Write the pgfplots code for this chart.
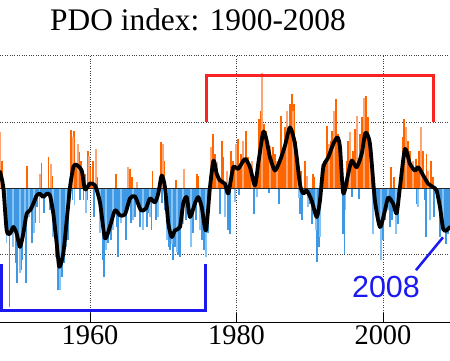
\documentclass[border=0pt]{standalone}
\usepackage{fontspec}
\setmainfont{Liberation Serif}
\newfontfamily\sansf{Liberation Sans}
\usepackage{pgfplots}
\pgfplotsset{compat=1.18}
\usepackage{pgfplotstable}

\definecolor{pdoorange}{RGB}{255,102,0}
\definecolor{pdolorange}{RGB}{255,165,115}
\definecolor{pdoblue}{RGB}{62,152,228}
\definecolor{pdolblue}{RGB}{135,195,245}
\definecolor{brred}{RGB}{250,35,35}
\definecolor{brblue}{RGB}{25,25,240}

\pgfplotstableread{
x y
1947.71 0.25
1948.16 0.015
1948.62 -0.636
1949.08 -0.686
1949.53 -0.586
1949.99 -0.686
1950.44 -0.887
1950.89 -0.686
1951.35 -0.385
1951.81 -0.335
1952.26 -0.235
1952.72 -0.11
1953.17 -0.084
1953.62 -0.135
1954.09 -0.084
1954.54 -0.11
1954.99 -0.385
1955.45 -0.836
1955.81 -1.188
1956.35 -0.986
1956.82 -0.486
1957.27 0.015
1957.72 0.316
1958.09 0.356
1958.86 0.266
1959.31 -0.02
1960.00 0.071
1960.68 0.041
1961.36 -0.215
1962.04 -0.756
1962.73 -0.576
1963.41 -0.335
1964.09 -0.41
1964.78 -0.395
1965.46 -0.155
1966.14 -0.125
1966.96 -0.335
1967.64 -0.305
1968.19 -0.155
1968.87 -0.215
1969.32 -0.08
1969.79 0.191
1970.24 0.01
1970.69 -0.531
1971.15 -0.737
1971.60 -0.636
1972.28 -0.586
1972.73 -0.23
1973.20 -0.135
1973.65 -0.436
1974.33 -0.23
1974.78 -0.135
1975.25 -0.286
1975.83 -0.636
1976.38 0.015
1976.86 0.417
1977.29 0.221
1977.74 0.116
1978.43 0.066
1978.88 -0.08
1979.56 0.316
1980.24 0.292
1981.16 0.442
1981.84 0.316
1982.52 0.041
1982.97 0.371
1983.66 0.853
1984.12 0.717
1984.57 0.466
1985.25 0.266
1985.94 0.417
1986.62 0.642
1987.30 0.917
1987.98 0.668
1988.67 0.056
1989.12 -0.08
1989.58 -0.035
1990.26 -0.185
1990.95 -0.436
1991.40 -0.185
1991.85 0.316
1992.53 0.466
1993.21 0.668
1993.79 0.767
1994.13 0.617
1994.58 -0.08
1995.26 0.221
1995.73 0.417
1996.41 0.316
1997.09 0.517
1997.61 0.838
1998.22 0.668
1998.90 -0.185
1999.59 -0.586
2000.27 -0.335
2000.72 -0.14
2001.40 -0.235
2001.87 -0.38
2002.32 0.015
2003.00 0.592
2003.68 0.367
2004.37 0.266
2004.82 0.316
2005.50 0.191
2006.18 0.066
2006.86 0.015
2007.32 -0.035
2007.78 -0.286
2008.23 -0.621
2008.69 -0.636
2009.14 -0.586
}\smoothed

\pgfplotstableread{
x y
1947.75 0.842
1947.98 0.417
1951.40 0.341
1953.17 0.221
1953.38 0.376
1954.33 0.477
1954.67 0.371
1954.88 0.191
1957.40 0.883
1957.68 0.767
1957.81 0.868
1958.09 0.356
1958.36 0.668
1958.50 0.541
1958.77 0.417
1959.04 0.266
1959.31 0.221
1959.72 0.567
1959.86 0.492
1960.00 0.316
1960.41 0.417
1960.82 0.592
1960.95 0.165
1963.55 0.221
1965.18 0.316
1965.46 0.296
1965.73 0.165
1966.41 0.09
1968.55 0.266
1969.69 0.692
1969.96 0.668
1970.10 0.417
1971.75 0.116
1972.83 0.292
1974.60 0.221
1974.74 0.191
1976.52 0.617
1976.79 0.818
1977.06 0.517
1977.33 0.391
1978.02 0.717
1978.15 0.466
1978.70 0.266
1979.25 0.567
1979.52 0.417
1979.93 0.668
1980.20 0.743
1980.61 0.517
1980.88 0.717
1981.29 0.868
1981.57 0.466
1982.11 0.417
1983.07 1.044
1983.34 1.168
1983.48 1.744
1983.75 0.968
1984.02 0.868
1984.57 0.642
1984.98 0.617
1985.25 0.517
1985.53 0.417
1986.07 1.093
1986.62 0.917
1986.89 1.168
1987.30 1.269
1987.57 1.42
1987.71 1.168
1987.85 1.269
1988.12 0.717
1988.39 0.466
1988.80 0.266
1989.35 0.417
1989.62 0.191
1990.44 0.217
1990.58 0.165
1991.67 0.367
1991.94 0.417
1992.35 0.943
1992.62 0.668
1992.90 0.717
1993.03 0.868
1993.31 1.168
1993.58 1.344
1993.85 0.818
1994.26 0.567
1995.02 0.417
1995.22 0.717
1995.49 0.842
1995.90 0.567
1996.17 0.893
1996.45 1.093
1996.86 0.818
1997.13 1.068
1997.40 1.368
1997.68 1.394
1997.95 1.068
1998.22 0.668
2001.09 0.316
2001.50 0.165
2002.45 0.217
2002.73 0.767
2002.86 1.044
2003.14 0.917
2003.41 0.717
2003.68 0.567
2004.09 0.417
2004.50 0.442
2004.91 0.567
2005.18 0.917
2005.46 0.567
2005.95 0.517
2006.14 0.266
2006.55 0.417
2006.82 0.165
}\pos

\pgfplotstableread{
x y
1948.60 -0.832
1949.01 -1.79
1949.21 -0.531
1949.48 -0.887
1949.89 -1.132
1950.03 -1.433
1950.44 -1.283
1950.65 -1.238
1950.78 -1.088
1951.12 -0.737
1951.26 -1.433
1951.46 -0.436
1951.67 -0.436
1951.81 -0.155
1952.08 -0.832
1952.35 -0.681
1952.49 -0.531
1952.76 -0.286
1953.10 -0.531
1953.72 -0.38
1954.54 -0.335
1954.95 -0.737
1955.36 -1.038
1955.63 -1.538
1955.90 -1.538
1956.17 -1.338
1956.45 -1.132
1956.72 -0.887
1956.99 -0.786
1957.60 -0.185
1957.88 -0.26
1958.63 -0.185
1959.10 -0.185
1959.45 -0.38
1959.65 -0.185
1960.54 -0.436
1961.36 -0.681
1961.77 -1.088
1961.91 -1.338
1962.18 -0.937
1962.45 -0.832
1962.86 -0.786
1963.14 -0.636
1963.68 -0.586
1963.82 -1.038
1964.23 -0.531
1964.91 -0.786
1965.60 -0.531
1965.85 -0.486
1966.14 -0.436
1966.82 -0.586
1967.23 -0.636
1967.78 -0.586
1968.05 -0.38
1968.19 -0.436
1968.42 -0.636
1969.01 -0.486
1969.28 -0.436
1969.83 -0.23
1970.24 -0.335
1970.51 -0.786
1970.78 -0.887
1970.92 -0.937
1971.19 -0.836
1971.33 -1.088
1971.60 -0.887
1971.87 -0.962
1972.01 -1.012
1972.28 -1.038
1972.69 -0.535
1973.10 -0.486
1973.38 -0.335
1973.79 -0.887
1974.06 -0.681
1974.47 -0.486
1975.01 -0.636
1975.29 -0.786
1975.56 -0.937
1975.83 -1.038
1976.11 -0.681
1977.74 -0.385
1978.43 -0.436
1978.84 -0.636
1979.11 -0.686
1979.80 -0.211
1980.34 -0.11
1982.38 -0.385
1982.79 -0.135
1984.43 -0.08
1985.80 -0.235
1988.53 -0.155
1988.67 -0.385
1988.94 -0.486
1989.76 -0.286
1990.03 -0.235
1990.30 -0.535
1990.85 -0.636
1990.99 -1.113
1991.26 -0.887
1991.40 -0.737
1994.54 -0.686
1994.75 -0.987
1994.88 -0.335
1995.76 -0.135
1996.72 -0.159
1998.63 -0.686
1998.90 -0.31
1999.31 -0.486
1999.73 -1.088
2000.00 -0.786
2000.27 -0.486
2000.68 -0.335
2000.95 -0.586
2001.23 -0.486
2001.77 -0.686
2002.04 -0.535
2004.64 -0.235
2004.80 -0.286
2005.73 -0.185
2005.87 -0.737
2006.40 -0.486
2006.95 -0.436
2007.78 -0.737
2008.19 -0.586
2008.60 -0.836
2008.87 -0.686
}\neg

\begin{document}
\begin{tikzpicture}
\begin{axis}[
  scale only axis,
  width=450bp, height=267bp,
  xmin=1947.71, xmax=2009.15,
  ymin=-2.02, ymax=2.01,
  axis x line*=bottom,
  axis y line*=left,
  y axis line style={draw=none},
  x axis line style={black, line width=0.8bp},
  xtick={1960,1980,2000},
  xticklabels={1960,1980,2000},
  xtick align=inside,
  major tick length=9bp,
  xtick style={black, line width=0.8bp},
  ytick={-1,0,1,2},
  yticklabels={},
  ytick style={draw=none},
  grid=major,
  major grid style={dotted, black!75, line width=0.8bp},
  ticklabel style={font=\fontsize{28.5}{30}\selectfont},
  /pgf/number format/assume math mode=true,
  clip=true,
]
\begin{scope}
\clip (axis cs:1940,0) rectangle (axis cs:2015,3);
\addplot[draw=none, fill=pdoorange, smooth, tension=0.4] table {\smoothed} \closedcycle;
\end{scope}
\begin{scope}
\clip (axis cs:1940,-3) rectangle (axis cs:2015,0);
\addplot[draw=none, fill=pdoblue, smooth, tension=0.4] table {\smoothed} \closedcycle;
\end{scope}
\addplot[ycomb, pdoorange, line width=1.5bp, mark=none] table {\pos};
\addplot[ycomb, pdolorange, line width=1.3bp, mark=none, each nth point=3] table {\pos};
\addplot[ycomb, pdoblue, line width=1.5bp, mark=none] table {\neg};
\addplot[ycomb, pdolblue, line width=1.3bp, mark=none, each nth point=3] table {\neg};
\addplot[black!85, line width=0.9bp] coordinates {(1940,0) (2015,0)};
\addplot[black, line width=3.8bp, line join=round, line cap=round, smooth, tension=0.4] table {\smoothed};
\addplot[brred, line width=3bp] coordinates {(1975.95,1) (1975.95,1.70) (2006.83,1.70) (2006.83,1)};
\addplot[brblue, line width=3bp] coordinates {(1947.86,-1.15) (1947.86,-1.845) (1975.75,-1.845) (1975.75,-1.15)};
\addplot[brblue, line width=2.5bp] coordinates {(2004.5,-1.238) (2008.19,-0.742)};
\node[anchor=base, text=brblue, font=\sansf\fontsize{30.6}{32}\selectfont] at (axis cs:2000.41,-1.644) {2008};
\end{axis}
\node[anchor=base, font=\fontsize{31.5}{33}\selectfont] at (198bp,291.3bp) {PDO index: 1900-2008};
\pgfresetboundingbox
\useasboundingbox (0,-39bp) rectangle (450bp,322bp);
\end{tikzpicture}
\end{document}
